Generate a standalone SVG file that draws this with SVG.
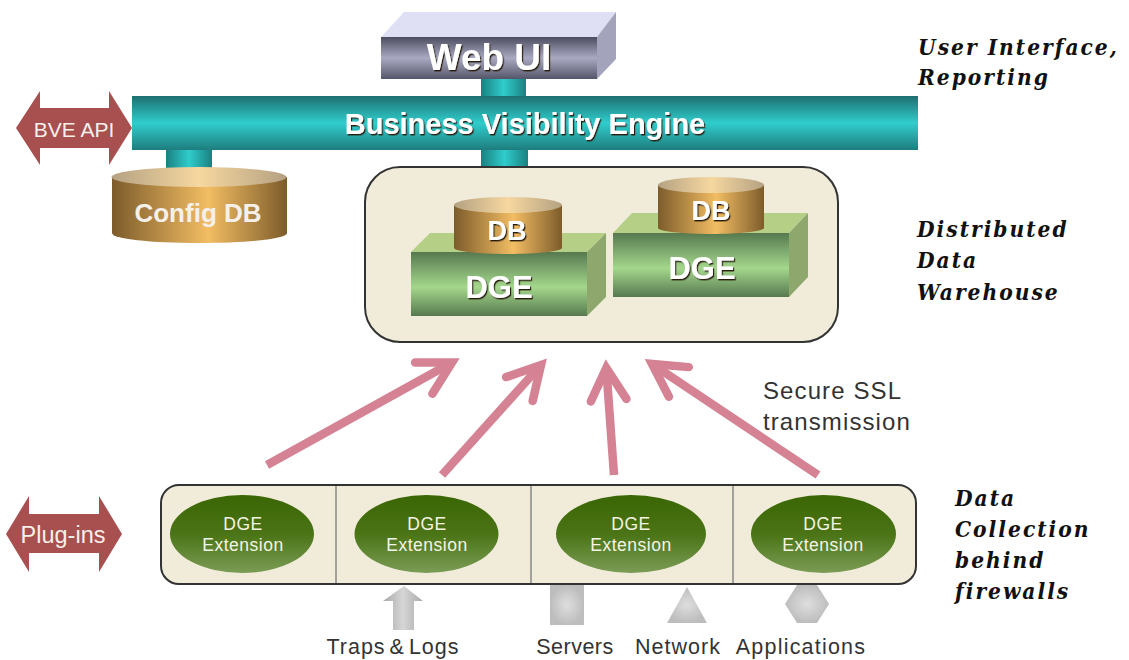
<svg xmlns="http://www.w3.org/2000/svg" width="1129" height="660" viewBox="0 0 1129 660">
<style>
.lab{font-family:"Liberation Sans",Arial,sans-serif;text-anchor:middle}
.big{fill:#fff;font-weight:bold;filter:url(#sh)}
.note{font-family:"DejaVu Serif Condensed","DejaVu Serif","Liberation Serif",serif;font-style:italic;font-weight:bold;font-size:22.5px;letter-spacing:2px;fill:#111}
.cap{font-size:21.5px;fill:#333;letter-spacing:.5px}
.ext{font-size:17.5px;fill:#f4f4e4;letter-spacing:.5px}
.white{fill:#f5f0ea}
.arrow{fill:none;stroke:#d48294;stroke-width:8.500}
.pale{fill:#f1ecda}
.edge{stroke:#333;stroke-width:2}
.div{stroke:#888;stroke-width:1.5}
.ssl{text-anchor:start;font-size:24px;letter-spacing:1.1px}
</style>
<defs>
<filter id="sh" x="-10%" y="-10%" width="125%" height="130%"><feDropShadow dx="1.2" dy="1.4" stdDeviation="0.5" flood-color="#2a1a10" flood-opacity="1"/></filter>
<linearGradient id="teal" x1="0" y1="0" x2="0" y2="1"><stop offset="0" stop-color="#1e6f70"/><stop offset=".5" stop-color="#30cdcd"/><stop offset="1" stop-color="#1e7d7e"/></linearGradient>
<linearGradient id="tealH" x1="0" y1="0" x2="1" y2="0"><stop offset="0" stop-color="#1a8080"/><stop offset=".5" stop-color="#30cccc"/><stop offset="1" stop-color="#1a8080"/></linearGradient>
<linearGradient id="grey" x1="0" y1="0" x2="0" y2="1"><stop offset="0" stop-color="#4d4d60"/><stop offset=".5" stop-color="#a9a9c2"/><stop offset="1" stop-color="#55556a"/></linearGradient>
<linearGradient id="gold" x1="0" y1="0" x2="1" y2="0"><stop offset="0" stop-color="#7d5c2b"/><stop offset=".55" stop-color="#f2bd63"/><stop offset="1" stop-color="#7d5c2b"/></linearGradient>
<linearGradient id="goldTop" x1="0" y1="0" x2="1" y2="0"><stop offset="0" stop-color="#b5a283"/><stop offset=".5" stop-color="#f6d79f"/><stop offset="1" stop-color="#b5a283"/></linearGradient>
<linearGradient id="green" x1="0" y1="0" x2="0" y2="1"><stop offset="0" stop-color="#56794f"/><stop offset=".55" stop-color="#a4d78c"/><stop offset="1" stop-color="#56794f"/></linearGradient>
<linearGradient id="oval" x1="0" y1="0" x2="0" y2="1"><stop offset="0" stop-color="#3b6604"/><stop offset=".5" stop-color="#4a7416"/><stop offset="1" stop-color="#7b9c55"/></linearGradient>
<radialGradient id="sil"><stop offset="0" stop-color="#dedede"/><stop offset="1" stop-color="#bdbdbd"/></radialGradient>
<linearGradient id="shaft" x1="0" y1="0" x2="1" y2="0"><stop offset="0" stop-color="#a9a9a9"/><stop offset=".5" stop-color="#d6d6d6"/><stop offset="1" stop-color="#a9a9a9"/></linearGradient>
<marker id="chev" viewBox="-6 -4 9 8" refX="0" refY="0" markerWidth="9" markerHeight="8" orient="auto" markerUnits="strokeWidth"><path d="M-3.800 -2.100L0 0L-3.800 2.100" fill="none" stroke="#d48294" stroke-width="1" stroke-linecap="round" stroke-miterlimit="6"/></marker>
</defs>

<g id="connectors">
<rect x="481" y="79" width="45" height="22" fill="url(#tealH)"/>
<rect x="481" y="146" width="47" height="22" fill="url(#tealH)"/>
<rect x="166" y="146" width="46" height="24" fill="url(#tealH)"/>
<path class="arrow" marker-end="url(#chev)" d="M267 465L452 362.500"/>
<path class="arrow" marker-end="url(#chev)" d="M442 475L541 365"/>
<path class="arrow" marker-end="url(#chev)" d="M614 475L606.300 368"/>
<path class="arrow" marker-end="url(#chev)" d="M818 475L652 364"/>
</g>

<g id="web-ui">
<path d="M381 37L404 12H616L597 37Z" fill="#e0e0f4"/>
<path d="M597 37L616 12V59L597 79Z" fill="#a3a3bc"/>
<rect x="381" y="37" width="216" height="42" fill="url(#grey)"/>
<text class="lab big" x="489" y="70" font-size="37">Web UI</text>
</g>

<g id="bve">
<rect x="132" y="96" width="786" height="54" fill="url(#teal)"/>
<text class="lab big" x="525" y="134" font-size="29">Business Visibility Engine</text>
</g>

<g id="bve-api">
<path d="M16 128L40 91V108H109V91L132 128L109 165V148H40V165Z" fill="#a84f50"/>
<text class="lab white" x="74" y="137" font-size="21">BVE API</text>
</g>

<g id="config-db">
<path d="M112 177V233C112 239 151 243 199 243S287 239 287 233V177Z" fill="url(#gold)"/>
<ellipse cx="199" cy="177" rx="87.500" ry="10" fill="url(#goldTop)"/>
<text class="lab white" x="198" y="222" font-size="26" font-weight="bold">Config DB</text>
</g>

<g id="warehouse">
<rect x="365" y="167" width="473" height="175" rx="35" class="pale edge"/>
</g>

<g id="dge-1">
<path d="M411 252L430 233H606L587 252Z" fill="#b6cf87"/>
<path d="M587 252L606 233V297L587 316Z" fill="#8ea76d"/>
<rect x="411" y="252" width="176" height="64" fill="url(#green)"/>
<text class="lab big" x="499" y="298" font-size="31">DGE</text>
</g>
<g id="db-1">
<path d="M454 205V248C454 251 478 254 508 254S562 251 562 248V205Z" fill="url(#gold)"/>
<ellipse cx="508" cy="205" rx="54" ry="8" fill="url(#goldTop)"/>
<text class="lab big" x="507" y="240" font-size="27">DB</text>
</g>

<g id="dge-2">
<path d="M613 233L632 213H808L789 233Z" fill="#b6cf87"/>
<path d="M789 233L808 213V277L789 297Z" fill="#8ea76d"/>
<rect x="613" y="233" width="176" height="64" fill="url(#green)"/>
<text class="lab big" x="702" y="279" font-size="31">DGE</text>
</g>
<g id="db-2">
<path d="M658 185V228C658 231 682 234 711 234S764 231 764 228V185Z" fill="url(#gold)"/>
<ellipse cx="711" cy="185" rx="53" ry="8" fill="url(#goldTop)"/>
<text class="lab big" x="711" y="220" font-size="27">DB</text>
</g>

<g id="plug-ins">
<path d="M6 534L29 496V514H99V496L122 534L99 572V553H29V572Z" fill="#a84f50"/>
<text class="lab white" x="63" y="543" font-size="23.500">Plug-ins</text>
</g>

<g id="collection-strip">
<rect x="161" y="485" width="755" height="99" rx="18" class="pale edge"/>
<path class="div" d="M336 486V583M531 486V583M733 486V583"/>
</g>
<g id="ext-1">
<ellipse cx="242" cy="534" rx="72" ry="39" fill="url(#oval)"/>
<text class="lab ext" x="243" y="530">DGE</text><text class="lab ext" x="243" y="551">Extension</text>
</g>
<g id="ext-2">
<ellipse cx="426.500" cy="534" rx="72" ry="39" fill="url(#oval)"/>
<text class="lab ext" x="427" y="530">DGE</text><text class="lab ext" x="427" y="551">Extension</text>
</g>
<g id="ext-3">
<ellipse cx="631" cy="534" rx="75" ry="39" fill="url(#oval)"/>
<text class="lab ext" x="631" y="530">DGE</text><text class="lab ext" x="631" y="551">Extension</text>
</g>
<g id="ext-4">
<ellipse cx="823.500" cy="534" rx="72.500" ry="39" fill="url(#oval)"/>
<text class="lab ext" x="823" y="530">DGE</text><text class="lab ext" x="823" y="551">Extension</text>
</g>

<g id="traps">
<path d="M393 630V601H383L404 586L423 601H414V630Z" fill="url(#shaft)"/>
<text class="lab cap" x="393" y="654" style="letter-spacing:1px;word-spacing:-3px">Traps &amp; Logs</text>
</g>
<g id="servers">
<rect x="550" y="585" width="34" height="40" fill="url(#sil)"/>
<text class="lab cap" x="575" y="654">Servers</text>
</g>
<g id="network">
<path d="M687 587L707 623H667Z" fill="url(#sil)"/>
<text class="lab cap" x="678" y="654" style="letter-spacing:1px">Network</text>
</g>
<g id="applications">
<path d="M797 585H817L829 604L817 623H797L785 604Z" fill="url(#sil)"/>
<text class="lab cap" x="801" y="654" style="letter-spacing:1.2px">Applications</text>
</g>

<g id="ssl-note">
<text class="lab cap ssl" x="763" y="399">Secure SSL</text>
<text class="lab cap ssl" x="763" y="430">transmission</text>
</g>

<g id="notes">
<text class="note" x="918" y="55">User Interface,</text>
<text class="note" x="918" y="85">Reporting</text>
<text class="note" x="917" y="237">Distributed</text>
<text class="note" x="917" y="268">Data</text>
<text class="note" x="917" y="300">Warehouse</text>
<text class="note" x="955" y="506">Data</text>
<text class="note" x="955" y="537">Collection</text>
<text class="note" x="955" y="568">behind</text>
<text class="note" x="955" y="599">firewalls</text>
</g>
</svg>
